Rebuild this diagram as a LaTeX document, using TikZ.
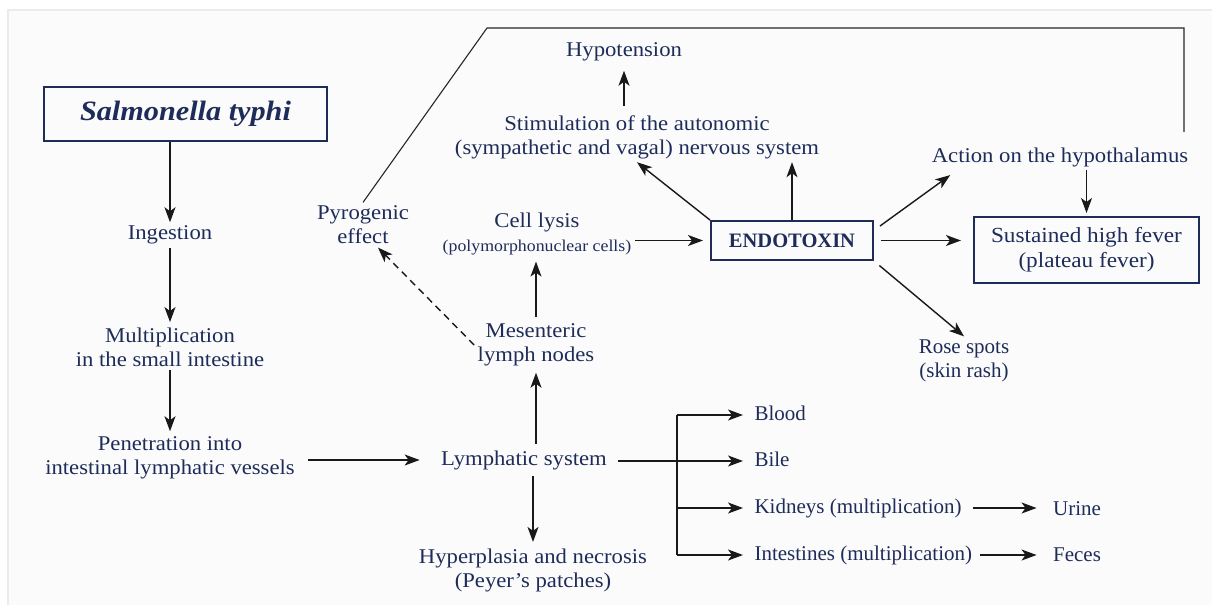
\documentclass[tikz,border=0pt]{standalone}
\usepackage{fontspec}
\setmainfont{Liberation Serif}
\newfontfamily\widefont{Liberation Serif}[FakeStretch=1.08, Ligatures=TeX]
\usetikzlibrary{arrows.meta, calc}
\definecolor{navy}{RGB}{30,44,90}

\begin{document}
\begin{tikzpicture}[x=0.3514mm, y=-0.3514mm,
  txt/.style={text=navy, align=center, font=\widefont\fontsize{21}{24}\selectfont},
  plain/.style={txt, font=\fontsize{21}{24}\selectfont},
  box/.style={txt, draw=navy, line width=2pt},
  item/.style={plain, anchor=west, text height=14pt, text depth=4pt},
  arr/.style={-{Stealth[length=15pt, width=11pt, inset=4pt]}, line width=1.4pt, draw=black!90}]

% 背景
\useasboundingbox (0,0) rectangle (1212,605);
\fill[white] (0,0) rectangle (1212,605);
\fill[black!1.5] (8,10) rectangle (1212,605);
\draw[black!8, line width=2pt] (8,605) -- (8,10) -- (1212,10);

% 左列
\node[box, font=\widefont\fontsize{28}{32}\selectfont\bfseries\itshape, minimum width=283pt, minimum height=54pt] (salm) at (185.5,114) {Salmonella typhi};
\node[txt] (ingest) at (170,235) {Ingestion};
\node[txt] (mult) at (170,347) {Multiplication\\in the small intestine};
\node[txt] (pen) at (170,458) {Penetration into\\intestinal lymphatic vessels};

\draw[arr] (ingest.north |- salm.south) -- (ingest.north);
\draw[arr, shorten >=2pt] (ingest) -- (mult);
\draw[arr, shorten >=2pt] (mult) -- (pen);

% 淋巴系统
\node[txt] (lymph) at (524,460) {Lymphatic system};
\node[txt] (mes) at (536,345) {Mesenteric\\lymph nodes};
\node[txt] (hyper) at (533,570) {Hyperplasia and necrosis\\(Peyer’s patches)};
\node[txt] (cell) at (537,234) {Cell lysis\\{\fontsize{16.5}{20}\selectfont (polymorphonuclear cells)}};
\node[txt] (pyro) at (363,225) {Pyrogenic\\effect};

\draw[arr, shorten <=10pt, shorten >=18pt] (pen.east |- lymph.west) -- (lymph.west);
\draw[arr, shorten <=3pt, shorten >=3pt] (mes.south |- lymph.north) -- (mes.south);
\draw[arr, shorten <=3pt, shorten >=3pt] (hyper.north |- lymph.south) -- (hyper.north);
\draw[arr, shorten <=3pt, shorten >=3pt] (mes.north) -- (mes.north |- cell.south);
\draw[arr, dash pattern=on 7pt off 5pt] (mes.west) -- ([xshift=15pt]pyro.south);

% 内毒素
\node[box, font=\fontsize{20.5}{24}\selectfont\bfseries, minimum width=162pt, minimum height=39pt] (endo) at (792,240.5) {ENDOTOXIN};
\node[txt] (stim) at (637,137) {Stimulation of the autonomic\\(sympathetic and vagal) nervous system};
\node[txt] (hypo) at (624,52) {Hypotension};
\node[txt] (hypoth) at (1060,157) {Action on the hypothalamus};
\node[box, font=\widefont\fontsize{21.5}{25}\selectfont, minimum width=225pt, minimum height=66pt] (fever) at (1086.5,250) {Sustained high fever\\(plateau fever)};
\node[plain] (rose) at (964,361) {Rose spots\\(skin rash)};

\draw[arr, shorten >=7pt] (cell.east |- endo.west) -- (endo.west);
\draw[arr] (endo.north west) -- (stim.south);
\draw[arr] (endo.north) -- (endo.north |- stim.south);
\draw[arr, shorten <=6pt, shorten >=6pt] (hypo.south |- stim.north) -- (hypo.south);
\draw[arr] ([shift={(6pt,-6pt)}]endo.north east) -- ([shift={(22pt,-5pt)}]hypoth.south west);
\draw[arr, shorten <=7pt, shorten >=12pt] (endo.east) -- (endo.east -| fever.west);
\draw[arr, shorten >=3pt] (fever.north |- hypoth.south) -- (fever.north);
\draw[arr, shorten <=7pt] (endo.south east) -- (rose.north);

% 顶部连线
\coordinate (topL) at (487,28);
\coordinate (topR) at (1184,28);
\draw[line width=1.1pt, black!85, shorten >=12pt] (pyro.north) -- (topL) -- (topR) -- (topR |- hypoth.north);

% 分支
\node[item] (blood) at (751,415) {Blood};
\node[item] (bile) at (751,461) {Bile};
\node[item] (kid) at (751,508) {Kidneys (multiplication)};
\node[item] (intes) at (751,555) {Intestines (multiplication)};
\node[plain] (urine) at (1077,509) {Urine};
\node[plain] (feces) at (1077,555) {Feces};

\coordinate (fork) at (677,461);
\draw[line width=1.4pt, black!90] (fork |- blood.west) -- (fork |- intes.west);
\foreach \n in {blood, kid, intes}
  \draw[arr, shorten >=8pt] (fork |- \n.west) -- (\n.west);
\draw[arr, shorten <=8pt, shorten >=8pt] (lymph.east |- bile.west) -- (bile.west);
\draw[arr, shorten <=8pt, shorten >=13pt] (kid.east) -- (kid.east -| urine.west);
\draw[arr, shorten <=4pt, shorten >=13pt] (intes.east) -- (intes.east -| feces.west);

\end{tikzpicture}
\end{document}
